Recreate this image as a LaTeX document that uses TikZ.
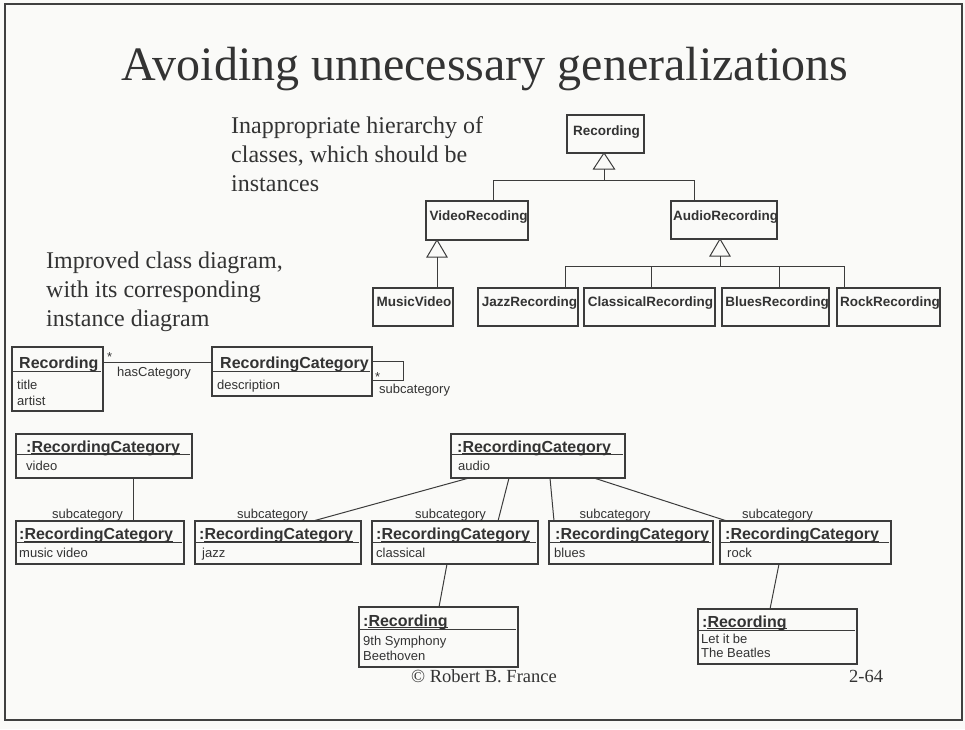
\documentclass[tikz,border=0pt]{standalone}
\usepackage{fontspec}
\setmainfont{Liberation Serif}
\newfontfamily\umlfont{Liberation Sans}
\usetikzlibrary{calc}

\definecolor{paper}{HTML}{FAFAF8}
\definecolor{ink}{HTML}{333333}
\definecolor{edge}{HTML}{3C3C3C}
\definecolor{frame}{HTML}{404040}

\tikzset{
  uml/.style={draw=edge, line width=1.05pt, fill=paper, inner sep=0pt, outer sep=0pt, anchor=north west},
  link/.style={draw=edge, line width=1pt},
  uline/.style={draw=ink, line width=0.9pt},
  cname/.style={font=\umlfont\bfseries\fontsize{13.5}{15}\selectfont, text=ink, inner sep=0pt, anchor=base},
  bigname/.style={font=\umlfont\bfseries\fontsize{16}{18}\selectfont, text=ink, inner sep=0pt, anchor=base west},
  attr/.style={font=\umlfont\fontsize{13}{15}\selectfont, text=ink, inner sep=0pt, anchor=base west},
  role/.style={font=\umlfont\fontsize{13}{15}\selectfont, text=ink, inner sep=0pt, anchor=base},
  prose/.style={font=\fontsize{24}{29}\selectfont, text=ink, inner sep=0pt, anchor=base west},
  foot/.style={font=\fontsize{18.5}{22}\selectfont, text=ink, inner sep=0pt, anchor=base west},
}

% box: name, x, y, width, height
\newcommand\umlbox[5]{\node[uml, minimum width=#4pt, minimum height=#5pt] (#1) at (#2,#3) {};}
% compartment line: box, offset from top
\newcommand\compline[2]{\draw[link] ([yshift=-#2pt]#1.north west) -- ([xshift=-2.5pt,yshift=-#2pt]#1.north east);}
% underlined object name: node, position, text
\newcommand\objname[3]{\node[bigname] (#1) at #2 {#3};
  \draw[uline] ([xshift=5.3pt,yshift=-1.8pt]#1.base west) -- ([yshift=-1.8pt]#1.base east);}

\begin{document}
\begin{tikzpicture}[x=1pt,y=-1pt]
\fill[paper] (0,0) rectangle (965,729);
\useasboundingbox (0,0) rectangle (965,729);
\draw[frame, line width=2.5pt] (5,4) rectangle (962,720);

% heading
\node[font=\fontsize{48}{56}\selectfont, text=ink, anchor=base, inner sep=0pt] (title) at (485,80)
  {Avoiding unnecessary generalizations};

% remarks
\node[prose] (p1) at (231,133) {Inappropriate hierarchy of};
\node[prose] (p2) at (231,162) {classes, which should be};
\node[prose] (p3) at (231,191) {instances};
\node[prose] (q1) at (46,268) {Improved class diagram,};
\node[prose] (q2) at (46,297) {with its corresponding};
\node[prose] (q3) at (46,326) {instance diagram};

% ---------- class hierarchy ----------
\umlbox{rec}{567}{115}{77}{38}
\umlbox{video}{426}{201}{102}{39}
\umlbox{audio}{671}{201}{106}{38}
\umlbox{music}{373}{288}{80}{38}
\umlbox{jazz}{478}{288}{100}{38}
\umlbox{classic}{584}{288}{131}{38}
\umlbox{blues}{722}{288}{107}{38}
\umlbox{rock}{837}{288}{103}{38}

\node[cname] (recT) at ($(rec.north)+(1,20.5)$) {Recording};
\node[cname] (videoT) at ($(video.north)+(1.5,19.5)$) {VideoRecoding};
\node[cname] (audioT) at ($(audio.north)+(1.5,19.5)$) {AudioRecording};
\node[cname] (musicT) at ($(music.north)+(1,18.5)$) {MusicVideo};
\node[cname] (jazzT) at ($(jazz.north)+(1.5,18.5)$) {JazzRecording};
\node[cname] (classicT) at ($(classic.north)+(1,18.5)$) {ClassicalRecording};
\node[cname] (bluesT) at ($(blues.north)+(1.5,18.5)$) {BluesRecording};
\node[cname] (rockT) at ($(rock.north)+(1.5,18.5)$) {RockRecording};

% generalization from Recording
\draw[link, fill=paper] ([xshift=-1.5pt]rec.south) -- ++(-10.5,16) -- ++(21,0) -- cycle;
\coordinate (recbase) at ($([xshift=-1.5pt]rec.south)+(0,16)$);
\coordinate (hubA) at ($(recbase)+(0,11)$);
\draw[link] (recbase) -- (hubA);
\draw[link] (hubA) -| ([xshift=16pt]video.north);
\draw[link] (hubA) -| ([xshift=-30pt]audio.north);

% generalization from VideoRecoding
\draw[link, fill=paper] ([xshift=-40pt]video.south) -- ++(-10,17) -- ++(20,0) -- cycle;
\coordinate (vbase) at ($([xshift=-40pt]video.south)+(0,17)$);
\draw[link] (vbase) -- ([xshift=24pt]music.north);

% generalization from AudioRecording
\draw[link, fill=paper] ([xshift=-4pt]audio.south) -- ++(-10,17) -- ++(20,0) -- cycle;
\coordinate (abase) at ($([xshift=-4pt]audio.south)+(0,17)$);
\coordinate (hubB) at ($(abase)+(0,10)$);
\draw[link] (abase) -- (hubB);
\draw[link] (hubB) -| ([xshift=37pt]jazz.north);
\draw[link] (hubB) -| ([xshift=1.5pt]classic.north);
\draw[link] (hubB) -| ([xshift=3.5pt]blues.north);
\draw[link] (hubB) -| ([xshift=-44.5pt]rock.north);

% ---------- improved class diagram ----------
\umlbox{recC}{12}{347}{91}{64}
\umlbox{catC}{212}{347}{160}{49}
\compline{recC}{24}
\compline{catC}{24}
\node[bigname] (recCT) at ($(recC.north west)+(7,21)$) {Recording};
\node[attr] (recCa) at ($(recC.north west)+(5,42)$) {title};
\node[attr] (recCb) at ($(recC.north west)+(5,58)$) {artist};
\node[bigname] (catCT) at ($(catC.north west)+(8,21)$) {RecordingCategory};
\node[attr] (catCa) at ($(catC.north west)+(5,42)$) {description};

\draw[link] ([yshift=-15pt]recC.north east) -- ([yshift=-15pt]catC.north west);
\node[attr] (mulA) at ($(recC.north east)+(4,14)$) {*};
\node[attr] (hasCat) at ($(recC.north east)+(14,29)$) {hasCategory};
\draw[link] ([yshift=-14pt]catC.north east) -- ++(31,0) -- ++(0,19) -- ([yshift=-33pt]catC.north east);
\node[attr] (mulB) at ($(catC.north east)+(3,34)$) {*};
\node[attr] (subC) at ($(catC.north east)+(7,46)$) {subcategory};

% ---------- instance diagram ----------
\umlbox{vid}{16}{434}{176}{44}
\umlbox{aud}{451}{434}{174}{44}
\compline{vid}{20}
\compline{aud}{20}
\objname{vidN}{($(vid.north west)+(10,18)$)}{:RecordingCategory}
\node[attr] (vidA) at ($(vid.north west)+(10,36)$) {video};
\objname{audN}{($(aud.north west)+(6,18)$)}{:RecordingCategory}
\node[attr] (audA) at ($(aud.north west)+(7,36)$) {audio};

\umlbox{mv}{16}{521}{168}{43}
\umlbox{jz}{195}{521}{166}{43}
\umlbox{cl}{372}{521}{166}{43}
\umlbox{bl}{549}{521}{164}{43}
\umlbox{rk}{720}{521}{171}{43}
\foreach \b in {mv,jz,cl,bl,rk}{\compline{\b}{21}}
\objname{mvN}{($(mv.north west)+(3,18.5)$)}{:RecordingCategory}
\objname{jzN}{($(jz.north west)+(4,18.5)$)}{:RecordingCategory}
\objname{clN}{($(cl.north west)+(4,18.5)$)}{:RecordingCategory}
\objname{blN}{($(bl.north west)+(6,18.5)$)}{:RecordingCategory}
\objname{rkN}{($(rk.north west)+(5,18.5)$)}{:RecordingCategory}
\node[attr] (mvA) at ($(mv.north west)+(3,36.5)$) {music video};
\node[attr] (jzA) at ($(jz.north west)+(7,36.5)$) {jazz};
\node[attr] (clA) at ($(cl.north west)+(4,36.5)$) {classical};
\node[attr] (blA) at ($(bl.north west)+(5,36.5)$) {blues};
\node[attr] (rkA) at ($(rk.north west)+(7,36.5)$) {rock};

\node[role] (mvR) at ($(mv.north west)+(71.5,-3)$) {subcategory};
\node[role] (jzR) at ($(jz.north west)+(77.5,-3)$) {subcategory};
\node[role] (clR) at ($(cl.north west)+(78.5,-3)$) {subcategory};
\node[role] (blR) at ($(bl.north west)+(66,-3)$) {subcategory};
\node[role] (rkR) at ($(rk.north west)+(57.5,-3)$) {subcategory};

\draw[link] ([xshift=117pt]vid.south west) -- ([xshift=117pt]mv.north west);
\draw[link] ([xshift=18pt]aud.south west) -- ([xshift=118pt]jz.north west);
\draw[link] ([xshift=58pt]aud.south west) -- ([xshift=126pt]cl.north west);
\draw[link] ([xshift=99pt]aud.south west) -- ([xshift=5pt]bl.north west);
\draw[link] ([xshift=143pt]aud.south west) -- ([xshift=7pt]rk.north west);

\umlbox{r9}{359}{607}{159}{60}
\umlbox{rb}{698}{609}{159}{55}
\compline{r9}{22}
\compline{rb}{21}
\objname{r9N}{($(r9.north west)+(4,19)$)}{:Recording}
\node[attr] (r9A) at ($(r9.north west)+(4,38.5)$) {9th Symphony};
\node[attr] (r9B) at ($(r9.north west)+(4,53.5)$) {Beethoven};
\objname{rbN}{($(rb.north west)+(4,18)$)}{:Recording}
\node[attr] (rbA) at ($(rb.north west)+(3,34.5)$) {Let it be};
\node[attr] (rbB) at ($(rb.north west)+(3,48.5)$) {The Beatles};

\draw[link] ([xshift=75pt]cl.south west) -- ([xshift=80pt]r9.north west);
\draw[link] ([xshift=59pt]rk.south west) -- ([xshift=72pt]rb.north west);

% footer
\node[foot] (copy) at (411,682) {© Robert B. France};
\node[foot] (page) at (849,682) {2-64};
\end{tikzpicture}
\end{document}
